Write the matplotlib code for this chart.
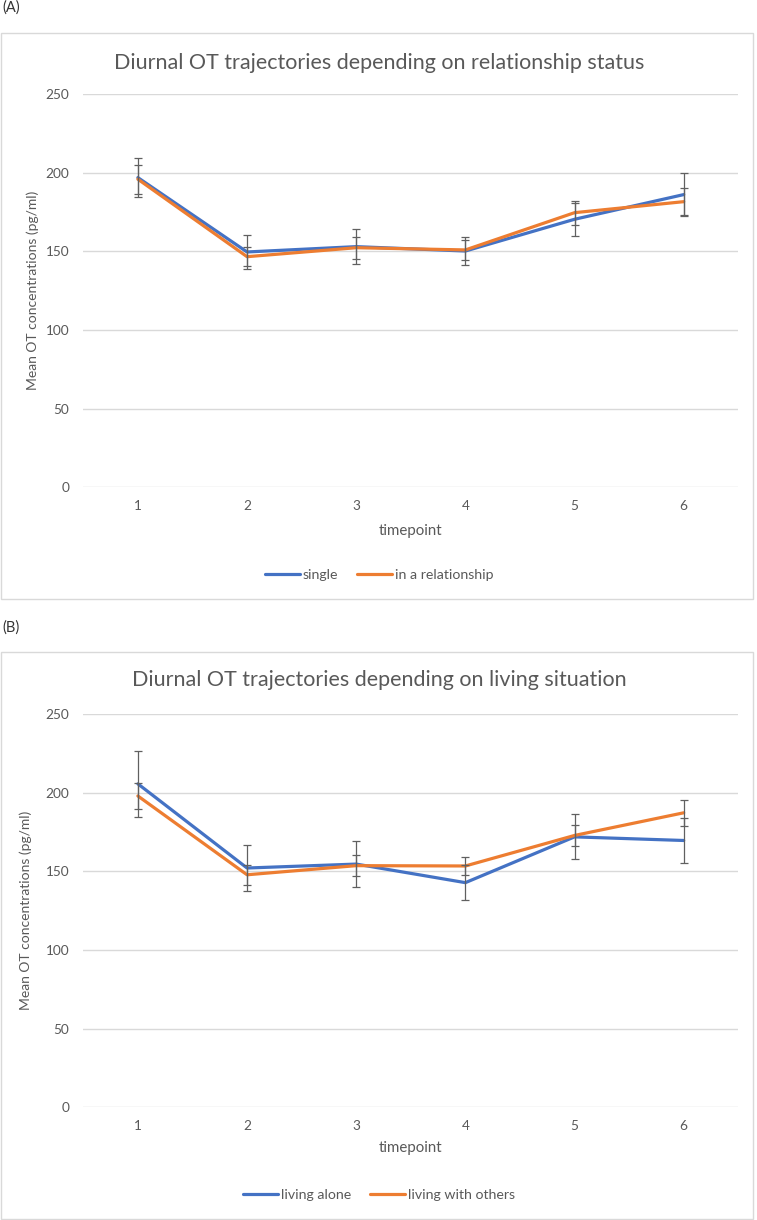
import matplotlib
matplotlib.use("Agg")
import matplotlib.pyplot as plt
from matplotlib.patches import Rectangle
import numpy as np

# Daten
timepoints = [1, 2, 3, 4, 5, 6]

# (A) relationship status
single_mean = [197.0, 149.7, 153.1, 150.3, 170.5, 186.2]
single_err = [12.6, 10.8, 11.2, 9.0, 10.4, 13.6]
relationship_mean = [196.0, 146.7, 152.4, 151.0, 174.7, 181.7]
relationship_err = [9.3, 6.2, 7.0, 6.5, 7.7, 8.6]

# (B) living situation
alone_mean = [205.6, 152.1, 154.6, 142.8, 171.9, 169.6]
alone_err = [21.0, 14.5, 14.6, 10.9, 14.3, 14.3]
others_mean = [197.9, 147.8, 153.6, 153.4, 172.8, 187.2]
others_err = [8.5, 6.3, 6.8, 5.6, 6.9, 8.3]

yticks = [0, 50, 100, 150, 200, 250]

BLUE = '#4472C4'
ORANGE = '#ED7D31'
TEXT = '#595959'
GRID = '#D9D9D9'

plt.rcParams['font.family'] = ['Lato', 'DejaVu Sans']

W, H = 757, 1220
fig = plt.figure(figsize=(W / 100, H / 100), dpi=100)


def px_axes(x0, y0, x1, y1):
    # Pixelkoordinaten (oben links) -> Figure-Koordinaten
    return fig.add_axes([x0 / W, 1 - y1 / H, (x1 - x0) / W, (y1 - y0) / H])


def draw_panel(box, plot, title, title_y, ylab_x, xlab_y, leg_y, series):
    bx0, by0, bx1, by1 = box
    fig.patches.append(Rectangle((bx0 / W, 1 - by1 / H), (bx1 - bx0) / W, (by1 - by0) / H,
                                 transform=fig.transFigure, fill=False,
                                 edgecolor=GRID, linewidth=1.0))
    ax = px_axes(*plot)
    ax.set_xlim(0.5, 6.5)
    ax.set_ylim(0, 250)
    for s in ax.spines.values():
        s.set_visible(False)
    ax.set_yticks(yticks)
    ax.set_xticks(timepoints)
    ax.tick_params(length=0, colors=TEXT, labelsize=9.8)
    ax.tick_params(axis='y', pad=10)
    ax.tick_params(axis='x', pad=9)
    ax.grid(axis='y', color=GRID, linewidth=1.0)
    ax.set_axisbelow(True)

    handles = []
    for mean, err, color, label in series:
        h, = ax.plot(timepoints, mean, color=color, linewidth=2.3, zorder=3,
                     solid_capstyle='round', label=label)
        ax.errorbar(timepoints, mean, yerr=err, fmt='none', ecolor='#606060',
                    elinewidth=0.9, capsize=2.6, capthick=0.9, zorder=4)
        handles.append(h)

    cx = (plot[0] + plot[2]) / 2
    box_cx = (bx0 + bx1) / 2 + 2
    fig.text(box_cx / W, 1 - title_y / H, title, ha='center', va='center',
             fontsize=15.5, color=TEXT)
    fig.text(ylab_x / W, 1 - (plot[1] + plot[3]) / 2 / H,
             'Mean OT concentrations (pg/ml)', rotation=90,
             ha='center', va='center', fontsize=10, color=TEXT)
    fig.text(cx / W, 1 - xlab_y / H, 'timepoint', ha='center', va='center',
             fontsize=10.8, color=TEXT)
    fig.legend(handles=handles, loc='center', bbox_to_anchor=(box_cx / W, 1 - leg_y / H),
               ncol=2, frameon=False, fontsize=10.2, labelcolor=TEXT,
               handlelength=2.5, handletextpad=0.2, columnspacing=1.3)
    return ax


fig.text(2 / W, 1 - 8 / H, '(A)', ha='left', va='center', fontsize=10.5, color='#333333')
draw_panel((1, 33, 753, 599), (83.3, 94.3, 738.3, 487.3),
           'Diurnal OT trajectories depending on relationship status',
           63, 33, 531, 575,
           [(single_mean, single_err, BLUE, 'single'),
            (relationship_mean, relationship_err, ORANGE, 'in a relationship')])

fig.text(2 / W, 1 - 628 / H, '(B)', ha='left', va='center', fontsize=10.5, color='#333333')
draw_panel((1, 652, 753, 1219), (83.3, 714.0, 738.3, 1107.3),
           'Diurnal OT trajectories depending on living situation',
           680, 26, 1148, 1195,
           [(alone_mean, alone_err, BLUE, 'living alone'),
            (others_mean, others_err, ORANGE, 'living with others')])

fig.savefig('out.png', dpi=100)
